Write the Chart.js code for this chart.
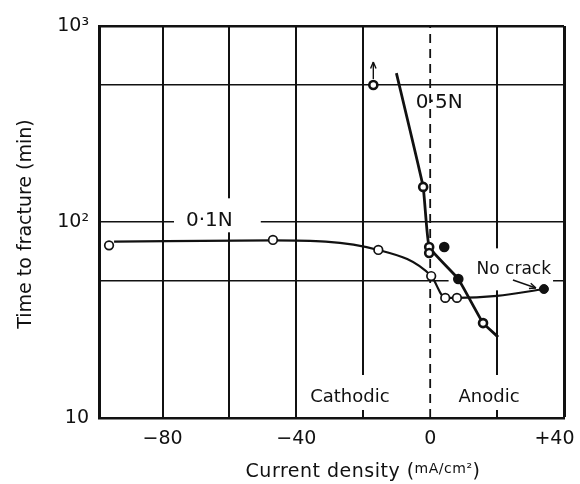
<!DOCTYPE html>
<html>
<head>
<meta charset="utf-8">
<script src="https://cdn.jsdelivr.net/npm/chart.js@4.4.1/dist/chart.umd.min.js"></script>
<style>
  body { margin: 0; background: #fff; }
  #wrap { width: 580px; height: 484px; }
</style>
</head>
<body>
<div id="wrap"><canvas id="chart"></canvas></div>
<script>
// 0.1 N points (open circles)
const n01X = [-96, -47, -15.5, 0.3, 4.5, 8];
const n01Y = [76, 81, 72, 53, 41, 41];
// faired curve drawn through the 0.1 N results
const n01CurveX = [-94.5, -47, -15.5, 0.3, 4.5, 8, 20, 34];
const n01CurveY = [79.5, 80.5, 72, 53, 41, 41, 42, 45.5];
// "no crack" result
const noCrackX = [34];
const noCrackY = [45.5];
// 0.5 N points
const n05X = [-17, -2.1, -0.3, -0.3, 4.2, 8.4, 15.8];
const n05Y = [500, 151, 74.5, 69.5, 74.5, 51.2, 30.5];
const n05Filled = [false, false, false, false, true, true, false];
// faired curve for 0.5 N
const n05CurveX = [-10.1, -2.1, -0.3, 8.4, 15.8, 20.3];
const n05CurveY = [575, 151, 74.5, 51.2, 30.5, 25.9];
// zero current line (dashed)
const zeroLineX = [0, 0];
const zeroLineY = [10, 1000];
// ticks
const xTicks = [-80, -60, -40, -20, 0, 20, 40];
const xTickLabels = { '-80': '\u221280', '-40': '\u221240', '0': '0', '40': '+40\u2003' };
const yTicks = [10, 50, 100, 500, 1000];
const yTickLabels = { '10': '10', '100': '10²', '1000': '10³' };

function toPoints(xs, ys) {
    return xs.map((x, i) => ({ x: x, y: ys[i] }));
}

const FONT = '"DejaVu Sans", sans-serif';

// text written on the plot, placed in data units; pad = white box around it [left, right, top, bottom]
const notes = [
    { text: '0·1N', x: -66, y: 102, size: 20, pad: [12, 28, 12, 2] },
    { text: '0·5N', x: 2.7, y: 405, size: 20, pad: [3, 3, 3, 3] },
    { text: 'Cathodic', x: -24, y: 12.8, size: 18, pad: [9, 9, 13, 4] },
    { text: 'Anodic', x: 17.6, y: 12.8, size: 18, pad: [8, 10, 13, 4] },
    { text: 'No crack', x: 25, y: 57, size: 17, pad: [28, 2, 13, 12] }
];

const notesPlugin = {
    id: 'notes',
    beforeDatasetsDraw(chart) {
        const ctx = chart.ctx;
        const xs = chart.scales.x, ys = chart.scales.y;
        ctx.save();
        ctx.fillStyle = '#fff';
        notes.forEach(n => {
            ctx.font = n.size + 'px ' + FONT;
            const w = ctx.measureText(n.text).width;
            const px = xs.getPixelForValue(n.x), py = ys.getPixelForValue(n.y);
            const left = px - w / 2 - n.pad[0], right = px + w / 2 + n.pad[1];
            const top = py - n.size / 2 - n.pad[2], bottom = py + n.size / 2 + n.pad[3];
            ctx.fillRect(left, top, right - left, bottom - top);
        });
        ctx.restore();
    },
    afterDatasetsDraw(chart) {
        const ctx = chart.ctx;
        const xs = chart.scales.x, ys = chart.scales.y;
        ctx.save();
        ctx.fillStyle = '#111';
        ctx.strokeStyle = '#111';
        ctx.textAlign = 'center';
        ctx.textBaseline = 'middle';
        notes.forEach(n => {
            ctx.font = n.size + 'px ' + FONT;
            ctx.fillText(n.text, xs.getPixelForValue(n.x), ys.getPixelForValue(n.y));
        });

        // arrow from "No crack" to its point
        const ax = xs.getPixelForValue(noCrackX[0]), ay = ys.getPixelForValue(noCrackY[0]);
        drawArrow(ctx, ax - 31, ay - 9, ax - 8, ay - 1);
        // arrow above the 0.5N point that did not break
        const ux = xs.getPixelForValue(n05X[0]), uy = ys.getPixelForValue(n05Y[0]);
        drawArrow(ctx, ux, uy - 6, ux, uy - 23);
        ctx.restore();
    },
    afterDraw(chart) {
        const ctx = chart.ctx;
        ctx.save();
        ctx.fillStyle = '#111';
        ctx.textBaseline = 'middle';

        // y title
        ctx.save();
        ctx.translate(26, 224);
        ctx.rotate(-Math.PI / 2);
        ctx.textAlign = 'center';
        ctx.font = '19px ' + FONT;
        ctx.fillText('Time to fracture (min)', 0, 0);
        ctx.restore();

        // x title with small raised units
        ctx.letterSpacing = '0.5px';
        const parts = [
            { t: 'Current density (', f: '19px ' + FONT, dy: 0 },
            { t: 'mA/cm²', f: '14px ' + FONT, dy: -3 },
            { t: ')', f: '19px ' + FONT, dy: 0 }
        ];
        let total = 0;
        parts.forEach(p => { ctx.font = p.f; p.w = ctx.measureText(p.t).width; total += p.w; });
        let x = 363 - total / 2;
        ctx.textAlign = 'left';
        parts.forEach(p => {
            ctx.font = p.f;
            ctx.fillText(p.t, x, 472 + p.dy);
            x += p.w;
        });
        ctx.restore();
    }
};

function drawArrow(ctx, x1, y1, x2, y2) {
    ctx.lineWidth = 1.4;
    ctx.beginPath();
    ctx.moveTo(x1, y1);
    ctx.lineTo(x2, y2);
    ctx.stroke();
    const a = Math.atan2(y2 - y1, x2 - x1);
    ctx.beginPath();
    ctx.moveTo(x2, y2);
    ctx.lineTo(x2 - 7 * Math.cos(a - 0.4), y2 - 7 * Math.sin(a - 0.4));
    ctx.moveTo(x2, y2);
    ctx.lineTo(x2 - 7 * Math.cos(a + 0.4), y2 - 7 * Math.sin(a + 0.4));
    ctx.stroke();
}

const config = {
    type: 'scatter',
    data: {
        datasets: [{
            label: '0.1N',
            data: toPoints(n01X, n01Y),
            pointRadius: 4.3,
            pointBackgroundColor: '#fff',
            pointBorderColor: '#111',
            pointBorderWidth: 1.7,
            order: 0
        },
        {
            label: 'no crack',
            data: toPoints(noCrackX, noCrackY),
            pointRadius: 4.5,
            pointBackgroundColor: '#111',
            pointBorderColor: '#111',
            pointBorderWidth: 1,
            order: 0
        },
        {
            label: '0.5N',
            data: toPoints(n05X, n05Y),
            pointRadius: 4,
            pointBackgroundColor: n05Filled.map(f => f ? '#111' : '#fff'),
            pointBorderColor: '#111',
            pointBorderWidth: 2.6,
            order: 0
        },
        {
            label: '0.1N curve',
            data: toPoints(n01CurveX, n01CurveY),
            showLine: true,
            pointRadius: 0,
            borderColor: '#111',
            borderWidth: 2.2,
            cubicInterpolationMode: 'monotone',
            order: 1
        },
        {
            label: '0.5N curve',
            data: toPoints(n05CurveX, n05CurveY),
            showLine: true,
            pointRadius: 0,
            borderColor: '#111',
            borderWidth: 2.8,
            tension: 0.1,
            order: 1
        },
        {
            label: 'zero',
            data: toPoints(zeroLineX, zeroLineY),
            showLine: true,
            pointRadius: 0,
            borderColor: '#111',
            borderWidth: 1.8,
            borderDash: [9, 6],
            order: 2
        }]
    },
    options: {
        responsive: true,
        maintainAspectRatio: false,
        animation: false,
        layout: { padding: { left: 0, right: 16, top: 26, bottom: 0 } },
        plugins: {
            legend: { display: false },
            tooltip: { enabled: false }
        },
        scales: {
            x: {
                type: 'linear',
                min: -99,
                max: 40,
                afterBuildTicks: scale => { scale.ticks = xTicks.map(v => ({ value: v })); },
                afterFit: scale => {
                    scale.height = 66;
                    scale.paddingLeft = 0;
                    scale.paddingRight = 0;
                },
                ticks: {
                    autoSkip: false,
                    maxRotation: 0,
                    padding: 10,
                    color: '#111',
                    font: { family: FONT, size: 19 },
                    callback: v => xTickLabels[String(v)] || ''
                },
                grid: {
                    drawTicks: false,
                    color: c => (c.tick && c.tick.value === 0) ? 'rgba(0,0,0,0)' : '#111',
                    lineWidth: c => (c.tick && c.tick.value === 40) ? 3 : 2
                },
                border: { display: true, color: '#111', width: 2.5 }
            },
            y: {
                type: 'logarithmic',
                min: 10,
                max: 1000,
                afterBuildTicks: scale => { scale.ticks = yTicks.map(v => ({ value: v })); },
                afterFit: scale => { scale.width = 99; },
                ticks: {
                    autoSkip: false,
                    padding: 10,
                    color: '#111',
                    font: { family: FONT, size: 19 },
                    callback: v => yTickLabels[String(v)] || ''
                },
                grid: {
                    drawTicks: false,
                    color: '#111',
                    lineWidth: c => (c.tick && c.tick.value === 1000) ? 2.5 : 1.6
                },
                border: { display: true, color: '#111', width: 3 }
            }
        }
    },
    plugins: [notesPlugin]
};

const chart = new Chart(document.getElementById('chart'), config);
</script>
</body>
</html>
